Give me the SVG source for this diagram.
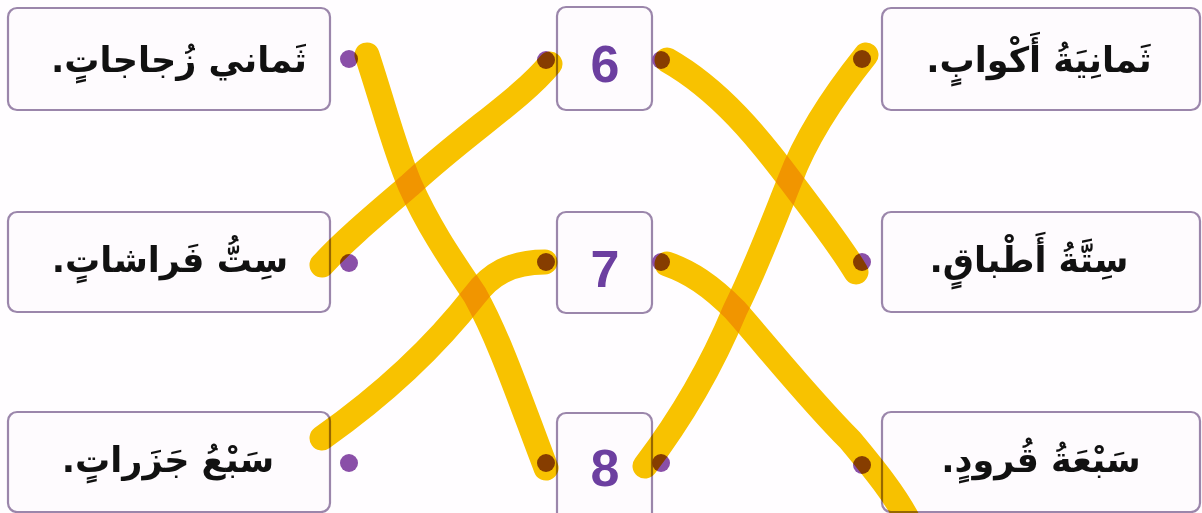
<svg xmlns="http://www.w3.org/2000/svg" width="1202" height="513" viewBox="0 0 1202 513">
<style>
.box{fill:#fefbfe;stroke:#9b86ab;stroke-width:2.2}
.ar{font-family:"DejaVu Sans",sans-serif;font-weight:bold;font-size:35px;fill:#111;text-anchor:middle;direction:rtl}
.num{font-family:"Liberation Sans",Arial,sans-serif;font-weight:bold;font-size:52px;fill:#6c3fa0;text-anchor:middle}
.dot{fill:#8a4fa8}
.ln{fill:none;stroke:#f8c400;stroke-width:25;stroke-linecap:round;stroke-linejoin:round;mix-blend-mode:multiply}
</style>
<rect width="1202" height="513" fill="#fffdff"/>
<g id="left1"><rect class="box" x="8" y="8" width="322" height="102" rx="9"/><text class="ar" x="179" y="72">ثَماني زُجاجاتٍ.</text></g>
<g id="left2"><rect class="box" x="8" y="212" width="322" height="100" rx="9"/><text class="ar" x="170" y="272">سِتُّ فَراشاتٍ.</text></g>
<g id="left3"><rect class="box" x="8" y="412" width="322" height="100" rx="9"/><text class="ar" x="168" y="472">سَبْعُ جَزَراتٍ.</text></g>
<g id="n6"><rect class="box" x="557" y="7" width="95" height="103" rx="9"/><text class="num" x="605" y="82">6</text></g>
<g id="n7"><rect class="box" x="557" y="212" width="95" height="101" rx="9"/><text class="num" x="605" y="287">7</text></g>
<g id="n8"><rect class="box" x="557" y="413" width="95" height="110" rx="9"/><text class="num" x="605" y="486">8</text></g>
<g id="right1"><rect class="box" x="882" y="8" width="318" height="102" rx="9"/><text class="ar" x="1039" y="72">ثَمانِيَةُ أَكْوابٍ.</text></g>
<g id="right2"><rect class="box" x="882" y="212" width="318" height="100" rx="9"/><text class="ar" x="1029" y="272">سِتَّةُ أَطْباقٍ.</text></g>
<g id="right3"><rect class="box" x="882" y="412" width="318" height="100" rx="9"/><text class="ar" x="1041" y="472">سَبْعَةُ قُرودٍ.</text></g>
<g id="dots">
<circle class="dot" cx="349" cy="59" r="9"/><circle class="dot" cx="349" cy="263" r="9"/><circle class="dot" cx="349" cy="463" r="9"/>
<circle class="dot" cx="546" cy="60" r="9"/><circle class="dot" cx="546" cy="262" r="9"/><circle class="dot" cx="546" cy="463" r="9"/>
<circle class="dot" cx="661" cy="60" r="9"/><circle class="dot" cx="661" cy="262" r="9"/><circle class="dot" cx="661" cy="463" r="9"/>
<circle class="dot" cx="862" cy="59" r="9"/><circle class="dot" cx="862" cy="262" r="9"/><circle class="dot" cx="862" cy="465" r="9"/>
</g>
<g id="connectors">
<path class="ln" d="M367 55 C385 110 395 150 410 185 C430 230 455 265 475 295 C500 340 520 400 546 468"/>
<path class="ln" d="M550 64 C520 100 470 130 410 185 C375 215 345 240 322 265"/>
<path class="ln" d="M545 262 C510 262 490 275 475 295 C440 340 390 390 322 438"/>
<path class="ln" d="M667 60 C720 90 760 140 790 180 C820 220 840 245 856 272"/>
<path class="ln" d="M866 55 C830 100 805 140 790 180 C770 230 755 270 735 310 C710 370 680 420 645 466"/>
<path class="ln" d="M667 264 C690 272 710 285 735 310 C770 350 810 400 850 440 C875 470 895 495 908 520"/>
</g>
</svg>
